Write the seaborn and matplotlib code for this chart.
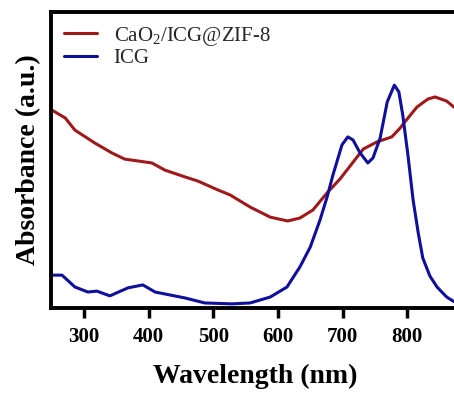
import pandas as pd
import matplotlib
matplotlib.use("Agg")
import matplotlib.pyplot as plt
import seaborn as sns

# CaO2/ICG@ZIF-8 spectrum
wl_zif = [250, 271, 286, 317, 343, 363, 405, 425, 456, 476, 507, 526, 557,
          588, 615, 634, 654, 676, 696, 732, 753, 776, 789, 796, 815, 832,
          843, 861, 872]
abs_zif = [0.669, 0.642, 0.601, 0.557, 0.524, 0.503, 0.490, 0.466, 0.443,
           0.429, 0.399, 0.382, 0.341, 0.307, 0.294, 0.304, 0.331, 0.389,
           0.436, 0.537, 0.561, 0.578, 0.608, 0.628, 0.679, 0.706, 0.713,
           0.699, 0.679]

# free ICG spectrum
wl_icg = [250, 266, 286, 306, 320, 340, 368, 391, 410, 456, 487, 529, 557,
          588, 614, 634, 650, 665, 676, 685, 699, 708, 716, 727, 739, 747,
          758, 769, 780, 787, 793, 801, 809, 817, 824, 835, 846, 861, 872]
abs_icg = [0.111, 0.111, 0.071, 0.054, 0.057, 0.041, 0.068, 0.078, 0.054,
           0.034, 0.017, 0.014, 0.017, 0.037, 0.071, 0.139, 0.206, 0.297,
           0.375, 0.449, 0.551, 0.578, 0.568, 0.524, 0.490, 0.507, 0.574,
           0.696, 0.753, 0.730, 0.652, 0.517, 0.365, 0.253, 0.169, 0.108,
           0.071, 0.037, 0.022]

labels = [r"CaO$_2$/ICG@ZIF-8", "ICG"]
colors = ["#9E1A1A", "#0F0F9C"]
xticks = [300, 400, 500, 600, 700, 800]

df = pd.concat([
    pd.DataFrame({"wl": wl_zif, "A": abs_zif, "sample": labels[0]}),
    pd.DataFrame({"wl": wl_icg, "A": abs_icg, "sample": labels[1]}),
])

sns.set_style("ticks")
plt.rcParams["font.family"] = ["Liberation Serif", "DejaVu Serif"]
plt.rcParams["mathtext.fontset"] = "custom"
plt.rcParams["mathtext.rm"] = "Liberation Serif"
plt.rcParams["mathtext.it"] = "Liberation Serif:italic"
plt.rcParams["lines.solid_joinstyle"] = "round"

fig = plt.figure(figsize=(4.54, 3.96), dpi=100)
ax = fig.add_axes([51/454, 88/396, 408/454, 296/396])

sns.lineplot(data=df, x="wl", y="A", hue="sample", palette=colors,
             sort=False, linewidth=2.2, ax=ax)

ax.set_xlim(249, 880)
ax.set_ylim(0, 1)
ax.set_xticks(xticks)
ax.set_yticks([])
ax.tick_params(axis="x", direction="out", length=7, width=2.5, labelsize=15,
               pad=7, color="black", labelcolor="black")
for t in ax.get_xticklabels():
    t.set_fontweight("bold")
for s in ax.spines.values():
    s.set_linewidth(2.8)
    s.set_color("black")
    s.set_visible(True)

ax.set_xlabel("Wavelength (nm)", fontsize=20, fontweight="bold", labelpad=12,
              color="black")
ax.set_ylabel("Absorbance (a.u.)", fontsize=20, fontweight="bold", labelpad=7,
              color="black")

leg = ax.legend(loc="upper left", frameon=False, fontsize=15, handlelength=1.6,
                handletextpad=0.8, labelspacing=0.05, borderaxespad=0.2)
for line in leg.get_lines():
    line.set_linewidth(2.2)

fig.savefig("out.png", dpi=100)
